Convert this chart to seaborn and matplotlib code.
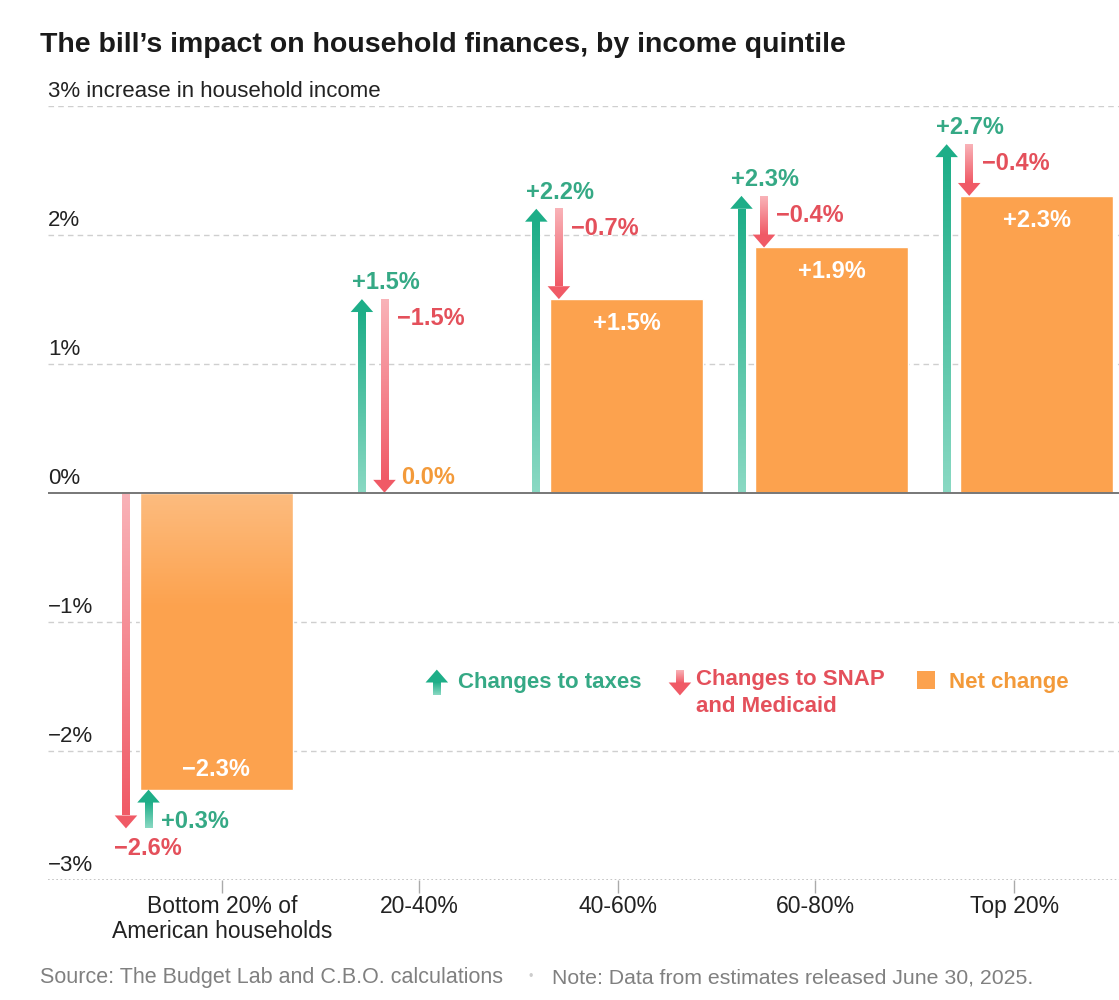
import numpy as np
import seaborn as sns
import matplotlib.pyplot as plt
from matplotlib.colors import LinearSegmentedColormap

sns.set_style('white')
plt.rcParams['font.family'] = ['Liberation Sans', 'DejaVu Sans']

# Data (percent change in household income)
groups = ['Bottom 20% of\nAmerican households', '20-40%', '40-60%', '60-80%', 'Top 20%']
tax_change = [0.3, 1.5, 2.2, 2.3, 2.7]
snap_medicaid_change = [-2.6, -1.5, -0.7, -0.4, -0.4]
net_change = [-2.3, 0.0, 1.5, 1.9, 2.3]
y_ticks = [3, 2, 1, 0, -1, -2, -3]
y_tick_labels = ['3% increase in household income', '2%', '1%', '0%',
                 '\u22121%', '\u22122%', '\u22123%']

ORANGE = '#FCA24E'
ORANGE_TEXT = '#F39A3A'
GREEN_DARK = '#1EAE88'
GREEN_LIGHT = '#8AD9C3'
GREEN_TEXT = '#35A985'
RED_DARK = '#F05A66'
RED_LIGHT = '#F9B3B8'
RED_TEXT = '#E4505B'


def fmt(v, sign=True):
    s = f'{v:+.1f}%' if sign else f'{v:.1f}%'
    return s.replace('-', '\u2212')


def draw_arrow(ax, x, y_start, y_end, light, dark,
               shaft_w=0.038, head_w=0.11, head_len=0.1):
    """Vertical arrow with a gradient shaft (light tail -> dark head)."""
    direction = np.sign(y_end - y_start)
    shaft_end = y_end - direction * head_len
    grad = np.linspace(0, 1, 200).reshape(-1, 1)
    if direction < 0:
        grad = grad[::-1]
    cmap = LinearSegmentedColormap.from_list('arrow', [light, dark])
    lo, hi = sorted([y_start, shaft_end])
    ax.imshow(grad, extent=[x - shaft_w / 2, x + shaft_w / 2, lo, hi],
              origin='lower', aspect='auto', cmap=cmap, vmin=0, vmax=1,
              interpolation='bilinear', zorder=3)
    ax.fill([x - head_w / 2, x + head_w / 2, x], [shaft_end, shaft_end, y_end],
            color=dark, lw=0, zorder=3)


fig = plt.figure(figsize=(11.19, 10), dpi=100)
ax = fig.add_axes([0.0429, 0.12, 0.9571, 0.7745])

sns.barplot(x=groups, y=net_change, color=ORANGE, width=0.746,
            saturation=1, ax=ax, zorder=2)

xmin, xmax = -0.82, 4.40
ax.set_xlim(xmin, xmax)
ax.set_ylim(-3, 3)

# soft light fade at the top of the negative bar
for i, net in enumerate(net_change):
    if net < 0:
        fade = np.linspace(0, 1, 100).reshape(-1, 1)
        fade_cmap = LinearSegmentedColormap.from_list(
            'fade', [(1, 1, 1, 0), (1, 1, 1, 0.28)])
        ax.imshow(fade, extent=[i - 0.373, i + 0.373, -0.9, 0], origin='lower',
                  aspect='auto', cmap=fade_cmap, vmin=0, vmax=1, zorder=2.5)

# grid lines and baseline
for yv in [3, 2, 1, -1, -2]:
    ax.axhline(yv, color='#cfcfcf', lw=1, ls=(0, (4, 3)), zorder=1)
ax.axhline(-3, color='#bbbbbb', lw=1.2, ls=(0, (1, 1.5)), zorder=1)
ax.axhline(0, color='#777777', lw=1.4, zorder=4)

for yv, lab in zip(y_ticks, y_tick_labels):
    ax.text(xmin, yv + 0.03, lab, ha='left', va='bottom', fontsize=16, color='#222222')

# arrows and labels
for i in range(len(groups)):
    tax, snap, net = tax_change[i], snap_medicaid_change[i], net_change[i]
    shift = 0.15 if net == 0 else 0.0
    x1 = i - 0.44 + shift
    x2 = x1 + 0.11
    if net < 0:
        draw_arrow(ax, x1, 0, snap, RED_LIGHT, RED_DARK)
        draw_arrow(ax, x2, snap, snap + tax, GREEN_LIGHT, GREEN_DARK)
        ax.text(x1 - 0.06, snap - 0.07, fmt(snap), ha='left', va='top',
                fontsize=17, weight='bold', color=RED_TEXT)
        ax.text(x2 + 0.06, snap, fmt(tax), ha='left', va='baseline',
                fontsize=17, weight='bold', color=GREEN_TEXT)
        ax.text(i, net + 0.07, fmt(net), ha='center', va='bottom',
                fontsize=17, weight='bold', color='white', zorder=5)
    else:
        draw_arrow(ax, x1, 0, tax, GREEN_LIGHT, GREEN_DARK)
        draw_arrow(ax, x2, tax, tax + snap, RED_LIGHT, RED_DARK)
        ax.text(x1 - 0.05, tax + 0.04, fmt(tax), ha='left', va='bottom',
                fontsize=17, weight='bold', color=GREEN_TEXT)
        ax.text(x2 + 0.06, tax - 0.06, fmt(snap), ha='left', va='top',
                fontsize=17, weight='bold', color=RED_TEXT)
        if net == 0:
            ax.text(x2 + 0.08, 0.03, fmt(net, sign=False), ha='left', va='bottom',
                    fontsize=17, weight='bold', color=ORANGE_TEXT)
        else:
            ax.text(i, net - 0.1, fmt(net), ha='center', va='top',
                    fontsize=17, weight='bold', color='white', zorder=5)

# legend
draw_arrow(ax, 1.075, -1.57, -1.37, GREEN_LIGHT, GREEN_DARK)
ax.text(1.18, -1.47, 'Changes to taxes', ha='left', va='center',
        fontsize=16, weight='bold', color=GREEN_TEXT)
draw_arrow(ax, 2.26, -1.37, -1.57, RED_LIGHT, RED_DARK)
ax.text(2.34, -1.365, 'Changes to SNAP\nand Medicaid', ha='left', va='top',
        fontsize=16, weight='bold', color=RED_TEXT, linespacing=1.35)
ax.fill([3.417, 3.505, 3.505, 3.417], [-1.38, -1.38, -1.52, -1.52],
        color=ORANGE, lw=0)
ax.text(3.57, -1.47, 'Net change', ha='left', va='center',
        fontsize=16, weight='bold', color=ORANGE_TEXT)

# x axis
tick_pos = [0.03, 0.99, 1.96, 2.92, 3.89]
ax.set_xticks(tick_pos)
ax.set_xticklabels(groups, fontsize=16.5, color='#222222', linespacing=1.1)
ax.tick_params(axis='x', bottom=True, length=9, width=1, color='#aaaaaa',
               pad=2, direction='out')
ax.set_yticks([])
ax.set_xlabel('')
sns.despine(ax=ax, left=True, bottom=True)

fig.text(40 / 1119, 1 - 45 / 1000,
         'The bill\u2019s impact on household finances, by income quintile',
         ha='left', va='center', fontsize=20.5, weight='bold', color='#1a1a1a')
fig.text(40 / 1119, 1 - 983 / 1000,
         'Source: The Budget Lab and C.B.O. calculations',
         ha='left', va='baseline', fontsize=15.5, color='#808080')
fig.text(531 / 1119, 1 - 977 / 1000, '\u2022', ha='center', va='center',
         fontsize=9, color='#cccccc')
fig.text(552 / 1119, 1 - 983 / 1000,
         'Note: Data from estimates released June 30, 2025.',
         ha='left', va='baseline', fontsize=15.3, color='#808080')

fig.savefig('out.png', dpi=100)
